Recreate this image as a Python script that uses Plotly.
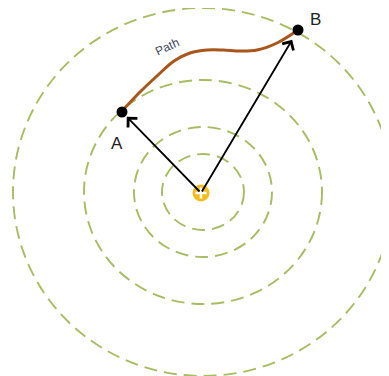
import plotly.graph_objects as go

# all coordinates in image pixels (y grows downward)
ring_center = (203, 192)
ring_rx = [41, 69, 119, 190]
ring_ry = [38, 65, 112, 184]

sun = (201, 193)
point_names = ["A", "B"]
point_x = [122, 298]
point_y = [112, 30]

path_x = [122, 140, 157, 174, 190, 207, 223, 240, 257, 277, 298]
path_y = [111, 92, 76, 61, 53, 50, 50, 51, 50, 43, 30]

ring_color = "#a6bc62"

fig = go.Figure()

# concentric dashed rings
for rx, ry in zip(ring_rx, ring_ry):
    cx, cy = ring_center
    fig.add_shape(type="circle", xref="x", yref="y",
                  x0=cx - rx, x1=cx + rx, y0=cy - ry, y1=cy + ry,
                  line=dict(color=ring_color, width=1.9, dash="13px,7px"),
                  layer="below")

# path between A and B
fig.add_trace(go.Scatter(x=path_x, y=path_y, mode="lines",
                         line=dict(color="#a8561c", width=3, shape="spline", smoothing=1.0),
                         hoverinfo="skip"))

# sun icon: yellow disc with a small white plus
fig.add_trace(go.Scatter(x=[sun[0]], y=[sun[1]], mode="markers",
                         marker=dict(size=17, color="#f3bd1c", line=dict(width=0)),
                         hoverinfo="skip"))
fig.add_trace(go.Scatter(x=[sun[0]], y=[sun[1]], mode="markers",
                         marker=dict(size=8, symbol="cross-thin",
                                     line=dict(width=2.5, color="white")),
                         hoverinfo="skip"))

# the two points
fig.add_trace(go.Scatter(x=point_x, y=point_y, mode="markers",
                         marker=dict(size=11, color="black"), hoverinfo="skip"))

# arrows from sun to A and B
for px, py in zip(point_x, point_y):
    fig.add_annotation(x=px + (sun[0] - px) * 0.06, y=py + (sun[1] - py) * 0.06,
                       ax=sun[0], ay=sun[1], xref="x", yref="y", axref="x", ayref="y",
                       showarrow=True, arrowhead=4, arrowsize=1.4, arrowwidth=1.8,
                       arrowcolor="black", text="")

# labels
fig.add_annotation(x=117, y=143, text="A", showarrow=False,
                   font=dict(family="Liberation Sans", size=17, color="#222222"))
fig.add_annotation(x=315, y=19, text="B", showarrow=False,
                   font=dict(family="Liberation Sans", size=17, color="#222222"))
fig.add_annotation(x=167, y=47, text="Path", showarrow=False, textangle=-25,
                   font=dict(family="Liberation Sans", size=12, color="#3f4556"))

# page body has an 8px margin, so the view starts 8px in
fig.update_layout(
    width=381, height=368,
    margin=dict(l=0, r=0, t=0, b=0),
    paper_bgcolor="white", plot_bgcolor="white",
    showlegend=False,
    xaxis=dict(range=[8, 389], visible=False, fixedrange=True),
    yaxis=dict(range=[376, 8], visible=False, fixedrange=True),
)

fig.write_html("out.html")
